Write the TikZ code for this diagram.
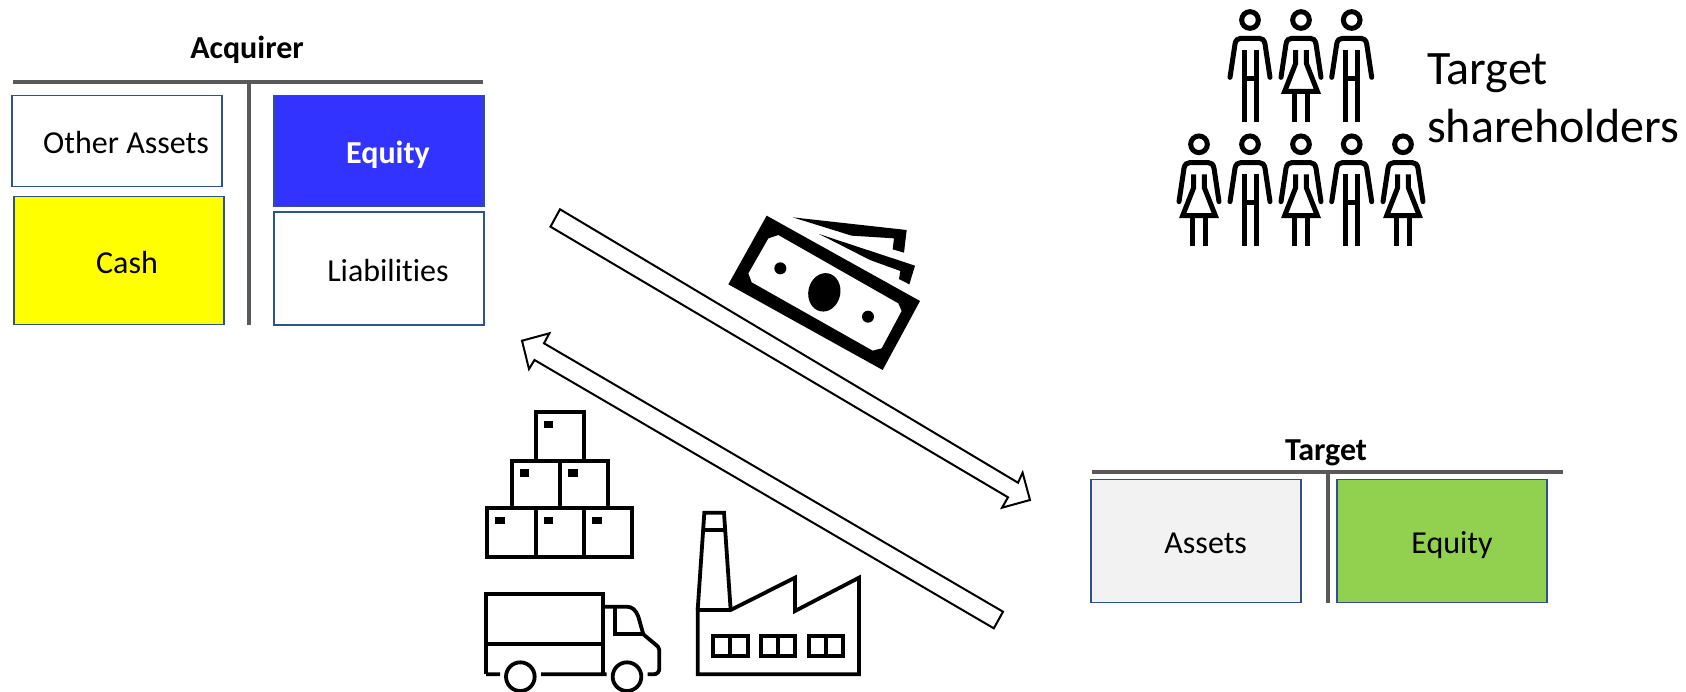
\documentclass[tikz,border=0pt]{standalone}
\usepackage{fontspec}
\setmainfont[Ligatures=CommonOff]{Carlito}
\usepackage{xcolor}
\usepackage{tikz}
\definecolor{BoxBorder}{RGB}{47,82,143}
\definecolor{RuleGrey}{RGB}{89,89,89}
\definecolor{EquityBlue}{RGB}{51,51,255}
\definecolor{CashYellow}{RGB}{255,255,0}
\definecolor{AssetGrey}{RGB}{242,242,242}
\definecolor{TargetGreen}{RGB}{146,208,80}

\tikzset{
    accountbox/.style={draw=BoxBorder, line width=1.4pt, inner sep=0pt, outer sep=0pt},
    boxlabel/.style={inner sep=0pt, anchor=base, font=\fontsize{32}{38}\selectfont},
    boldlabel/.style={inner sep=0pt, anchor=base, font=\fontsize{32}{38}\selectfont\bfseries},
    biglabel/.style={inner sep=0pt, anchor=base west, font=\fontsize{48}{58}\selectfont},
    trule/.style={color=RuleGrey, line width=4pt},
    flowarrow/.style={draw=black, fill=white, line width=2pt, line join=miter},
    icon/.style={draw=black, line width=3.8pt, line join=miter},
    figureline/.style={draw=black, line width=5pt, line cap=butt},
    man/.pic={
        \draw[figureline] (0,0) circle (25);
        \draw[figureline, line cap=round] (-60,172) -- (-45,72) .. controls (-43,60) and (-36,55) .. (-28,55) -- (28,55) .. controls (36,55) and (43,60) .. (45,72) -- (60,172);
        \draw[figureline] (-18,90) -- (-18,305) (18,90) -- (18,305) (-18,175) -- (18,175);
    },
    woman/.pic={
        \draw[figureline] (0,0) circle (25);
        \draw[figureline, line cap=round] (-60,172) -- (-45,72) .. controls (-43,60) and (-36,55) .. (-28,55) -- (28,55) .. controls (36,55) and (43,60) .. (45,72) -- (60,172);
        \draw[figureline, line join=miter] (-16,90) -- (-16,130) -- (-49,214) -- (49,214) -- (16,130) -- (16,90);
        \draw[figureline] (-20,214) -- (-20,305) (20,214) -- (20,305);
    },
    crate/.pic={
        \draw[icon, fill=white] (0,0) rectangle (145,145);
        \fill[black] (24,25) rectangle (53,48);
    }
}

\begin{document}
\begin{tikzpicture}[x=1pt, y=-1pt]
    \clip (0,0) rectangle (1686,691);

    % Acquirer balance sheet
    \node[boldlabel] (acquirertitle) at (247,58.7) {Acquirer};
    \draw[trule] (13,81.7) -- (483,81.7);
    \draw[trule] (249,81.7) -- (249,324.5);
    \node[accountbox, minimum width=210pt, minimum height=91pt] (otherassets) at (117,141.2) {};
    \node[accountbox, fill=CashYellow, minimum width=210pt, minimum height=128pt] (cash) at (119,260.7) {};
    \node[accountbox, fill=EquityBlue, minimum width=210pt, minimum height=111pt] (acquirerequity) at (379,151.2) {};
    \node[accountbox, minimum width=210pt, minimum height=113pt] (liabilities) at (379,268.5) {};
    \node[boxlabel] (otherassetslabel) at (126,153.3) {Other Assets};
    \node[boxlabel] (cashlabel) at (127,273.7) {Cash};
    \node[boldlabel, text=white] (acquirerequitylabel) at (388,163.3) {Equity};
    \node[boxlabel] (liabilitieslabel) at (388,281.3) {Liabilities};

    % Target balance sheet
    \node[boldlabel] (targettitle) at (1326,460) {Target};
    \draw[trule] (1092,471.7) -- (1562.7,471.7);
    \draw[trule] (1327.7,471.7) -- (1327.7,602.7);
    \node[accountbox, fill=AssetGrey, minimum width=210pt, minimum height=123.4pt] (assets) at (1196,541) {};
    \node[accountbox, fill=TargetGreen, minimum width=210pt, minimum height=123.4pt] (targetequity) at (1441.8,541) {};
    \node[boxlabel] (assetslabel) at (1205.7,553.7) {Assets};
    \node[boxlabel] (targetequitylabel) at (1452,553.7) {Equity};

    % Cash and assets flows
    \draw[flowarrow] (560,209.3) -- (1018,482.7) -- (1022.6,472.7) -- (1030,500) -- (1002,507.7) -- (1008,497.3) -- (550.5,226.7) -- cycle;
    \draw[flowarrow] (1003,611.7) -- (544,343.3) -- (549.4,333.3) -- (522,340.7) -- (529,369) -- (534.5,360) -- (993.8,628.3) -- cycle;

    % Shareholders
    \foreach \px/\py/\kind in {1250/20/man, 1301/20/woman, 1351.7/20/man, 1199/144.3/woman, 1250/144.3/man, 1301/144.3/woman, 1351.7/144.3/man, 1403/144.3/woman}
        \pic[scale=1/3] at (\px,\py) {\kind};
    \node[biglabel] (targetline) at (1427,84) {Target};
    \node[biglabel] (shareholdersline) at (1427,142) {shareholders};

    % Banknotes
    \begin{scope}[shift={(720,205)}, scale=1/3]
        \fill[even odd rule] (140,32) -- (600,288) -- (488,495) -- (25,238) -- cycle
            (175,90) -- (145,100) -- (85,205) -- (95,232) -- (458,437) -- (485,430) -- (545,318) -- (535,295) -- cycle;
        \fill (181,190) circle (18);
        \fill (444,335) circle (18);
        \fill[rotate around={-12:(313,262)}] (313,262) ellipse (48 and 58);
        \fill (218,37) -- (560,75) -- (552,143) -- (518,133) -- (522,100) -- (395,92) -- cycle;
        \fill (297,87) -- (585,182) -- (568,238) -- (537,222) -- (541,198) -- (450,165) -- cycle;
    \end{scope}

    % Stacked crates, truck and factory
    \begin{scope}[shift={(470,400)}, scale=1/3]
        \foreach \cx/\cy in {197/37, 125/182, 270/182, 52/325, 197/325, 342/325}
            \pic[scale=1/3] at (\cx,\cy) {crate};

        \draw[icon] (48,823) -- (48,583) -- (400,583) -- (400,823);
        \draw[icon] (48,733) -- (400,733);
        \draw[icon] (48,823) -- (90,823) (213,823) -- (410,823) (533,823) -- (550,823) .. controls (562,823) and (568,815) .. (568,805) -- (568,750) .. controls (568,742) and (562,738) .. (556,733) -- (520,703) -- (505,650) .. controls (498,630) and (486,620) .. (470,620) -- (400,620);
        \draw[icon] (435,620) -- (435,703) -- (520,703);
        \draw[icon] (151,830) circle (43);
        \draw[icon] (471,830) circle (43);

        \draw[icon] (683,630) -- (703,338) -- (762,338) -- (782,630);
        \draw[icon] (700,390) -- (765,390);
        \draw[icon] (683,630) -- (683,823) -- (1167,823) -- (1167,533) -- (975,633) -- (975,533) -- (782,630) -- cycle;
        \foreach \wx in {730,873,1016} {
            \draw[icon] (\wx,708) rectangle ++(103,60);
            \draw[icon] (\wx+51,708) -- (\wx+51,768);
        }
    \end{scope}
\end{tikzpicture}
\end{document}
